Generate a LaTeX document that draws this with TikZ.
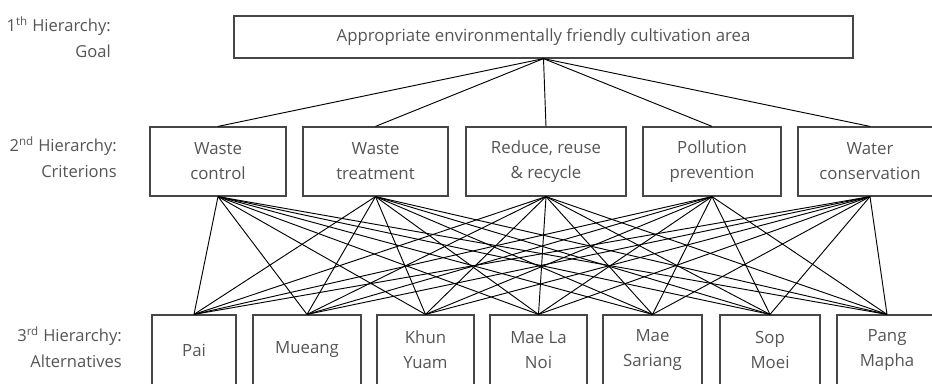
\documentclass[tikz,border=0pt]{standalone}
\usepackage{fontspec}
\setmainfont{Open Sans}
\usepackage{tikz}

\begin{document}
\begin{tikzpicture}[x=0.75pt,y=0.75pt,yscale=-1,xscale=1,
	hbox/.style={draw={rgb,255:red,70;green,70;blue,70}, line width=0.9pt, inner sep=0pt, align=center,
		text={rgb,255:red,85;green,85;blue,85}, font=\fontsize{12.6}{18.75}\selectfont},
	hlabel/.style={anchor=east, align=right, inner sep=0pt,
		text={rgb,255:red,85;green,85;blue,85}, font=\fontsize{12.4}{19.5}\selectfont},
	link/.style={draw=black, line width=0.7pt}]
	\useasboundingbox (0,0) rectangle (932,383);
	\clip (0,0) rectangle (932,383);
	
	% Hierarchy labels
	\node[hlabel] (lvlone) at (111,37) {1\textsuperscript{th} Hierarchy:\\Goal};
	\node[hlabel] (lvltwo) at (117,157.5) {2\textsuperscript{nd} Hierarchy:\\Criterions};
	\node[hlabel] (lvlthree) at (122,347.5) {3\textsuperscript{rd} Hierarchy:\\Alternatives};
	
	% Goal
	\node[hbox, minimum width=619*0.75pt, minimum height=42*0.75pt] (goal) at (543.5,37) {Appropriate environmentally friendly cultivation area};
	
	% Criterions
	\node[hbox, minimum width=136*0.75pt, minimum height=69*0.75pt] (crA) at (218,161.5) {Waste\\control};
	\node[hbox, minimum width=145*0.75pt, minimum height=69*0.75pt] (crB) at (375.5,161.5) {Waste\\treatment};
	\node[hbox, minimum width=160*0.75pt, minimum height=69*0.75pt] (crC) at (546,161.5) {Reduce, reuse\\\& recycle};
	\node[hbox, minimum width=138*0.75pt, minimum height=69*0.75pt] (crD) at (712,161.5) {Pollution\\prevention};
	\node[hbox, minimum width=144*0.75pt, minimum height=69*0.75pt] (crE) at (870,161.5) {Water\\conservation};
	
	% Alternatives
	\node[hbox, minimum width=84*0.75pt, minimum height=70*0.75pt] (alA) at (194,350) {Pai};
	\node[hbox, minimum width=108*0.75pt, minimum height=70*0.75pt] (alB) at (307,350) {Mueang};
	\node[hbox, minimum width=97*0.75pt, minimum height=70*0.75pt] (alC) at (425.5,350) {Khun\\Yuam};
	\node[hbox, minimum width=97*0.75pt, minimum height=70*0.75pt] (alD) at (538.5,350) {Mae La\\Noi};
	\node[hbox, minimum width=99*0.75pt, minimum height=70*0.75pt] (alE) at (652.5,350) {Mae\\Sariang};
	\node[hbox, minimum width=100*0.75pt, minimum height=70*0.75pt] (alF) at (770,350) {Sop\\Moei};
	\node[hbox, minimum width=100*0.75pt, minimum height=70*0.75pt] (alG) at (887,350) {Pang\\Mapha};
	
	% Goal to criterions
	\foreach \c in {crA,crB,crC,crD,crE}
		\draw[link] (goal.south) -- (\c.north);
	
	% Criterions to alternatives
	\foreach \c in {crA,crB,crC,crD,crE}
		\foreach \a in {alA,alB,alC,alD,alE,alF,alG}
			\draw[link] (\c.south) -- (\a.north);
	
\end{tikzpicture}
\end{document}
